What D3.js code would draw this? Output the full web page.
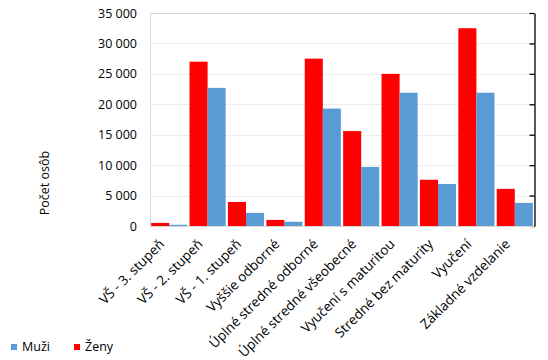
<!DOCTYPE html>
<html>
<head>
<meta charset="utf-8">
<script src="https://cdn.jsdelivr.net/npm/d3@7"></script>
<style>
  body { margin: 0; background: #fff; }
  text { font-family: "Open Sans", "DejaVu Sans", sans-serif; fill: #000; }
</style>
</head>
<body>
<div id="container"></div>
<script>
let w = 548;
let h = 360;

// categories along the x axis
let categories = ["VŠ - 3. stupeň", "VŠ - 2. stupeň", "VŠ - 1. stupeň", "Vyššie odborné",
  "Úplné stredné odborné", "Úplné stredné všeobecné", "Vyučení s maturitou",
  "Stredné bez maturity", "Vyučení", "Základné vzdelanie"];

// series values
let zeny = [500, 27000, 3950, 1000, 27500, 15600, 25000, 7600, 32500, 6100];
let muzi = [200, 22700, 2150, 700, 19300, 9700, 21900, 6900, 21900, 3800];

let yTicks = [0, 5000, 10000, 15000, 20000, 25000, 30000, 35000];

let seriesNames = ["Ženy", "Muži"];
let colors = { "Ženy": "#ff0000", "Muži": "#5b9bd5" };

let plot = { left: 150, right: 534, top: 13, bottom: 226 };

let viz = d3.select("#container")
  .append("svg")
    .attr("width", w)
    .attr("height", h)
;

let xScale = d3.scaleBand().domain(categories).range([plot.left, plot.right]).paddingInner(0.06).paddingOuter(0.03);
let subScale = d3.scaleBand().domain(seriesNames).range([0, xScale.bandwidth()]);
let yScale = d3.scaleLinear().domain([0, 35000]).range([plot.bottom, plot.top]);

// gridlines
viz.append("g")
  .selectAll("line")
  .data(yTicks)
  .enter()
  .append("line")
    .attr("x1", plot.left)
    .attr("x2", plot.right)
    .attr("y1", d => Math.round(yScale(d)) + 0.5)
    .attr("y2", d => Math.round(yScale(d)) + 0.5)
    .attr("stroke", d => d == 35000 ? "#d9d9d9" : "#eeeeee")
;

// left frame line
viz.append("line")
  .attr("x1", plot.left + 0.5).attr("x2", plot.left + 0.5)
  .attr("y1", plot.top).attr("y2", plot.bottom)
  .attr("stroke", "#d9d9d9");

// y tick labels
let yAxis = d3.axisLeft(yScale).tickValues(yTicks).tickSize(0).tickPadding(0)
  .tickFormat(d => d3.format(",")(d).replace(/,/g, " "));
let yAxisGroup = viz.append("g").attr("transform", "translate(137,0)").call(yAxis);
yAxisGroup.select(".domain").remove();
yAxisGroup.selectAll("text")
  .attr("font-size", "12.5px")
  .attr("font-family", "'Open Sans', sans-serif")
  .attr("fill", "#000");

// right axis (black, ticks inward)
let rAxis = d3.axisLeft(yScale).tickValues(yTicks).tickSize(5).tickSizeOuter(0).tickFormat("");
let rAxisGroup = viz.append("g").attr("transform", "translate(" + (plot.right + 0.5) + ",0)").call(rAxis);
rAxisGroup.selectAll("line, path").attr("stroke", "#000").attr("stroke-width", 1.3);

// bars
let groups = viz.append("g")
  .selectAll(".cat")
  .data(categories)
  .enter()
  .append("g")
    .attr("class", "cat")
    .attr("transform", d => "translate(" + xScale(d) + ",0)")
;

groups.selectAll("rect")
  .data(function(d, i){
    return [{ s: "Ženy", v: zeny[i] }, { s: "Muži", v: muzi[i] }];
  })
  .enter()
  .append("rect")
    .attr("x", d => subScale(d.s))
    .attr("width", subScale.bandwidth())
    .attr("y", d => yScale(d.v))
    .attr("height", d => plot.bottom - yScale(d.v))
    .attr("fill", d => colors[d.s])
;

// bottom axis line
viz.append("line")
  .attr("x1", plot.left).attr("x2", plot.right)
  .attr("y1", plot.bottom + 0.5).attr("y2", plot.bottom + 0.5)
  .attr("stroke", "#d9d9d9");

// x labels, rotated
viz.append("g")
  .selectAll("text")
  .data(categories)
  .enter()
  .append("text")
    .text(d => d)
    .attr("font-size", "13.5px")
    .attr("text-anchor", "end")
    .attr("transform", d => "translate(" + (xScale(d) + xScale.bandwidth() / 2 - 4) + "," + (plot.bottom + 19) + ") rotate(-45)")
;

// y axis title
viz.append("text")
  .text("Počet osôb")
  .attr("font-size", "12.5px")
  .attr("text-anchor", "middle")
  .attr("transform", "translate(49,183) rotate(-90)");

// legend
let legend = [{ name: "Muži", x: 11 }, { name: "Ženy", x: 74 }];
let lg = viz.append("g").selectAll("g").data(legend).enter().append("g")
  .attr("transform", d => "translate(" + d.x + ",344)");
lg.append("rect").attr("width", 6).attr("height", 6).attr("fill", d => colors[d.name]);
lg.append("text").text(d => d.name).attr("x", 11).attr("y", 7).attr("font-size", "12.5px");
</script>
</body>
</html>
